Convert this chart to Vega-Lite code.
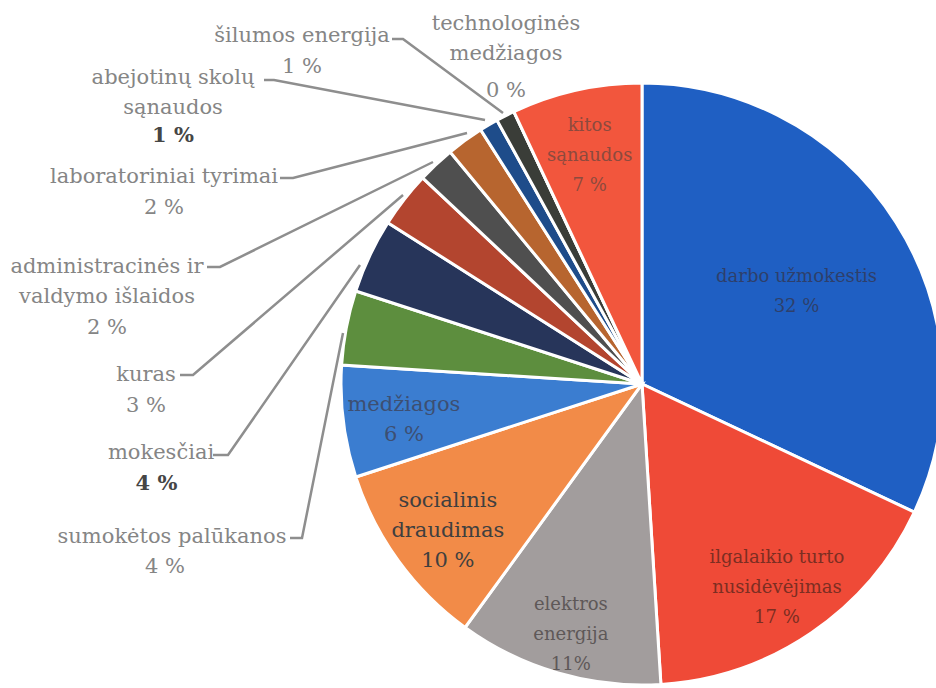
{
  "$schema": "https://vega.github.io/schema/vega-lite/v6.json",
  "width": 936,
  "height": 688,
  "autosize": {"type": "none"},
  "padding": 0,
  "background": "white",
  "config": {"view": {"stroke": null}, "font": "DejaVu Serif"},
  "datasets": {
    "costs": [
      {"idx": 1, "name": "darbo užmokestis", "value": 32, "inner": "darbo užmokestis\n32 %"},
      {"idx": 2, "name": "ilgalaikio turto nusidėvėjimas", "value": 17, "inner": "ilgalaikio turto\nnusidėvėjimas\n17 %"},
      {"idx": 3, "name": "elektros energija", "value": 11, "inner": "elektros\nenergija\n11%"},
      {"idx": 4, "name": "socialinis draudimas", "value": 10, "inner": "socialinis\ndraudimas\n10 %"},
      {"idx": 5, "name": "medžiagos", "value": 6, "inner": "medžiagos\n6 %"},
      {"idx": 6, "name": "sumokėtos palūkanos", "value": 4, "inner": ""},
      {"idx": 7, "name": "mokesčiai", "value": 4, "inner": ""},
      {"idx": 8, "name": "kuras", "value": 3, "inner": ""},
      {"idx": 9, "name": "administracinės ir valdymo išlaidos", "value": 2, "inner": ""},
      {"idx": 10, "name": "laboratoriniai tyrimai", "value": 2, "inner": ""},
      {"idx": 11, "name": "abejotinų skolų sąnaudos", "value": 1, "inner": ""},
      {"idx": 12, "name": "šilumos energija", "value": 1, "inner": ""},
      {"idx": 13, "name": "technologinės medžiagos", "value": 0, "inner": ""},
      {"idx": 14, "name": "kitos sąnaudos", "value": 7, "inner": "kitos\nsąnaudos\n7 %"}
    ],
    "outer": [
      {"name": "šilumos energija", "label": "šilumos energija", "pct": "1 %", "nx": -1.1296, "ny": 1.1761, "vx": -1.1296, "vy": 1.0731},
      {"name": "technologinės medžiagos", "label": "technologinės\nmedžiagos", "pct": "0 %", "nx": -0.4518, "ny": 1.2159, "vx": -0.4518, "vy": 0.9934},
      {"name": "abejotinų skolų sąnaudos", "label": "abejotinų skolų\nsąnaudos", "pct": "1 %", "nx": -1.5581, "ny": 1.0365, "vx": -1.5581, "vy": 0.8439},
      {"name": "laboratoriniai tyrimai", "label": "laboratoriniai tyrimai", "pct": "2 %", "nx": -1.588, "ny": 0.7076, "vx": -1.588, "vy": 0.6047},
      {"name": "administracinės ir valdymo išlaidos", "label": "administracinės ir\nvaldymo išlaidos", "pct": "2 %", "nx": -1.7774, "ny": 0.4086, "vx": -1.7774, "vy": 0.206},
      {"name": "kuras", "label": "kuras", "pct": "3 %", "nx": -1.6478, "ny": 0.0498, "vx": -1.6478, "vy": -0.0532},
      {"name": "mokesčiai", "label": "mokesčiai", "pct": "4 %", "nx": -1.598, "ny": -0.2093, "vx": -1.613, "vy": -0.3123},
      {"name": "sumokėtos palūkanos", "label": "sumokėtos palūkanos", "pct": "4 %", "nx": -1.5615, "ny": -0.4884, "vx": -1.5847, "vy": -0.588}
    ],
    "leaders": [
      {"name": "šilumos energija", "seq": 1, "x": -0.8306, "y": 1.1462},
      {"name": "šilumos energija", "seq": 2, "x": -0.794, "y": 1.1462},
      {"name": "šilumos energija", "seq": 3, "x": -0.4618, "y": 0.9003},
      {"name": "abejotinų skolų sąnaudos", "seq": 1, "x": -1.2558, "y": 1.01},
      {"name": "abejotinų skolų sąnaudos", "seq": 2, "x": -1.2226, "y": 1.01},
      {"name": "abejotinų skolų sąnaudos", "seq": 3, "x": -0.5216, "y": 0.8771},
      {"name": "laboratoriniai tyrimai", "seq": 1, "x": -1.2027, "y": 0.6844},
      {"name": "laboratoriniai tyrimai", "seq": 2, "x": -1.1595, "y": 0.6844},
      {"name": "laboratoriniai tyrimai", "seq": 3, "x": -0.5814, "y": 0.8339},
      {"name": "administracinės ir valdymo išlaidos", "seq": 1, "x": -1.4452, "y": 0.3887},
      {"name": "administracinės ir valdymo išlaidos", "seq": 2, "x": -1.402, "y": 0.3887},
      {"name": "administracinės ir valdymo išlaidos", "seq": 3, "x": -0.6944, "y": 0.7375},
      {"name": "kuras", "seq": 1, "x": -1.5349, "y": 0.0299},
      {"name": "kuras", "seq": 2, "x": -1.4917, "y": 0.0299},
      {"name": "kuras", "seq": 3, "x": -0.794, "y": 0.6279},
      {"name": "mokesčiai", "seq": 1, "x": -1.4252, "y": -0.2359},
      {"name": "mokesčiai", "seq": 2, "x": -1.3754, "y": -0.2359},
      {"name": "mokesčiai", "seq": 3, "x": -0.9369, "y": 0.3953},
      {"name": "sumokėtos palūkanos", "seq": 1, "x": -1.1694, "y": -0.5116},
      {"name": "sumokėtos palūkanos", "seq": 2, "x": -1.1296, "y": -0.5116},
      {"name": "sumokėtos palūkanos", "seq": 3, "x": -0.9934, "y": 0.1694}
    ]
  },
  "layer": [
    {
      "data": {"name": "costs"},
      "mark": {"type": "arc", "outerRadius": 301, "stroke": "white", "strokeWidth": 3},
      "encoding": {
        "x": {"datum": 0, "type": "quantitative", "scale": {"domain": [-2.1329, 0.9767], "nice": false, "zero": false}, "axis": null},
        "y": {"datum": 0, "type": "quantitative", "scale": {"domain": [-1.01, 1.2757], "nice": false, "zero": false}, "axis": null},
        "theta": {"field": "value", "type": "quantitative", "stack": true},
        "order": {"field": "idx", "type": "quantitative"},
        "color": {
          "field": "name", "type": "nominal", "legend": null,
          "scale": {
            "domain": ["darbo užmokestis", "ilgalaikio turto nusidėvėjimas", "elektros energija", "socialinis draudimas", "medžiagos", "sumokėtos palūkanos", "mokesčiai", "kuras", "administracinės ir valdymo išlaidos", "laboratoriniai tyrimai", "abejotinų skolų sąnaudos", "šilumos energija", "technologinės medžiagos", "kitos sąnaudos"],
            "range": ["#1f5fc3", "#ef4a37", "#a29d9d", "#f28b48", "#3b7dd0", "#5d8e3e", "#27355a", "#b3452f", "#4f4f4f", "#b7652f", "#1e4c8a", "#3a3d38", "#7f7f7f", "#f2563d"]
          }
        }
      }
    },
    {
      "data": {"name": "costs"},
      "mark": {"type": "text", "font": "DejaVu Serif", "lineBreak": "\n", "lineHeight": 30, "align": "center", "baseline": "middle",
        "fontSize": {"expr": "datum.name === 'socialinis draudimas' || datum.name === 'medžiagos' ? 21 : 18"},
        "dy": {"expr": "datum.inner ? 6 - (length(split(datum.inner, '\\n')) - 1) * 15 : 0"},
        "radius": {"expr": "datum.name === 'darbo užmokestis' ? 183 : (datum.name === 'elektros energija' ? 255 : 240)"}},
      "encoding": {
        "x": {"datum": 0, "type": "quantitative"},
        "y": {"datum": 0, "type": "quantitative"},
        "theta": {"field": "value", "type": "quantitative", "stack": true},
        "order": {"field": "idx", "type": "quantitative"},
        "text": {"field": "inner", "type": "nominal"},
        "fill": {
          "field": "name", "type": "nominal", "legend": null,
          "scale": {
            "domain": ["darbo užmokestis", "ilgalaikio turto nusidėvėjimas", "elektros energija", "socialinis draudimas", "medžiagos", "kitos sąnaudos"],
            "range": ["#2e3f6b", "#7c2e22", "#5e5858", "#3f3f3f", "#3d4f72", "#8c4a3e"]
          }
        }
      }
    },
    {
      "data": {"name": "leaders"},
      "mark": {"type": "line", "color": "#8e8e8e", "strokeWidth": 2.5},
      "encoding": {
        "x": {"field": "x", "type": "quantitative"},
        "y": {"field": "y", "type": "quantitative"},
        "detail": {"field": "name", "type": "nominal"},
        "order": {"field": "seq", "type": "quantitative"}
      }
    },
    {
      "data": {"name": "outer"},
      "mark": {"type": "text", "font": "DejaVu Serif", "fontSize": 21, "lineBreak": "\n", "lineHeight": 30, "align": "center", "baseline": "middle", "dy": 6, "color": "#858585"},
      "encoding": {
        "x": {"field": "nx", "type": "quantitative"},
        "y": {"field": "ny", "type": "quantitative"},
        "text": {"field": "label", "type": "nominal"}
      }
    },
    {
      "data": {"name": "outer"},
      "transform": [{"filter": "datum.name !== 'abejotinų skolų sąnaudos' && datum.name !== 'mokesčiai'"}],
      "mark": {"type": "text", "font": "DejaVu Serif", "fontSize": 21, "align": "center", "baseline": "middle", "dy": 6, "color": "#858585"},
      "encoding": {
        "x": {"field": "vx", "type": "quantitative"},
        "y": {"field": "vy", "type": "quantitative"},
        "text": {"field": "pct", "type": "nominal"}
      }
    },
    {
      "data": {"name": "outer"},
      "transform": [{"filter": "datum.name === 'abejotinų skolų sąnaudos' || datum.name === 'mokesčiai'"}],
      "mark": {"type": "text", "font": "DejaVu Serif", "fontSize": 21, "fontWeight": "bold", "align": "center", "baseline": "middle", "dy": 6, "color": "#454545"},
      "encoding": {
        "x": {"field": "vx", "type": "quantitative"},
        "y": {"field": "vy", "type": "quantitative"},
        "text": {"field": "pct", "type": "nominal"}
      }
    }
  ]
}
